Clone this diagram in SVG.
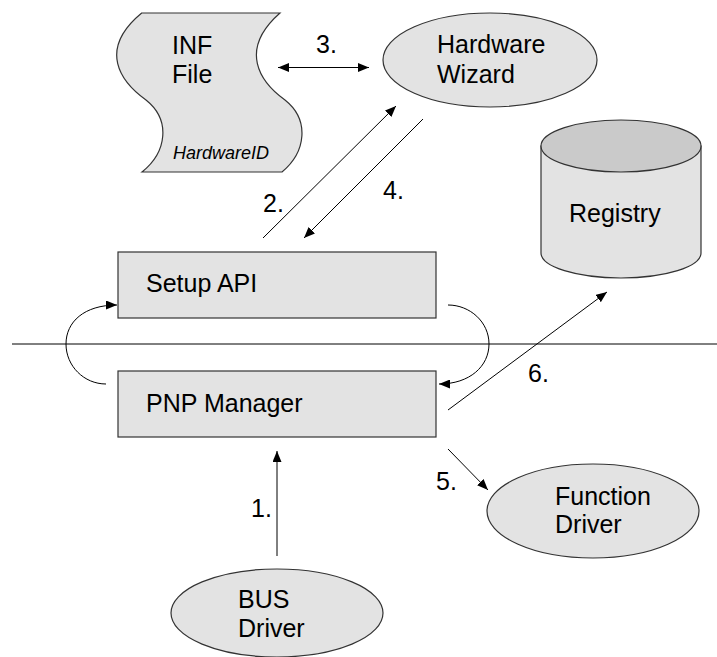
<svg xmlns="http://www.w3.org/2000/svg" width="717" height="657" viewBox="0 0 717 657">
<style>
.shape{fill:#e3e3e3;stroke:#333;stroke-width:1.2}
.top{fill:#cacaca;stroke:#333;stroke-width:1.2}
.t{font-family:"Liberation Sans",Arial,sans-serif;font-size:25px;fill:#000}
.it{font-family:"Liberation Sans",Arial,sans-serif;font-size:18px;font-style:italic;fill:#000}
.c{fill:none;stroke:#000;stroke-width:1}
</style>
<defs>
<marker id="ah" markerWidth="11" markerHeight="9" refX="11" refY="4.5" orient="auto-start-reverse" markerUnits="userSpaceOnUse">
<path d="M0,0 L11,4.5 L0,9 z" fill="#000"/>
</marker>
</defs>
<rect width="717" height="657" fill="#fff"/>
<line x1="12" y1="344" x2="717" y2="344" stroke="#000" stroke-width="1"/>
<g id="inf-file">
<path class="shape" d="M141.7,13 L280,13 C238,50 260,82 285,100 C310,120 306,152 282,172 L142,172 C167,152 171,120 146,100 C121,82 97,50 141.7,13 Z"/>
<text class="t" x="172" y="54">INF</text>
<text class="t" x="172" y="83">File</text>
<text class="it" x="173" y="159">HardwareID</text>
</g>
<g id="hardware-wizard">
<ellipse class="shape" cx="490" cy="60" rx="107" ry="47"/>
<text class="t" x="437" y="53">Hardware</text>
<text class="t" x="437" y="83">Wizard</text>
</g>
<g id="registry">
<path class="shape" d="M541,146 L541,253 A80,25 0 0 0 701,253 L701,146 Z"/>
<ellipse class="top" cx="621" cy="146" rx="80" ry="26"/>
<text class="t" x="569" y="222">Registry</text>
</g>
<g id="setup-api">
<rect class="shape" x="118" y="252" width="318" height="66"/>
<text class="t" x="146" y="292">Setup API</text>
</g>
<g id="pnp-manager">
<rect class="shape" x="118" y="371" width="318" height="66"/>
<text class="t" x="146" y="412">PNP Manager</text>
</g>
<g id="function-driver">
<ellipse class="shape" cx="593" cy="511" rx="106" ry="47"/>
<text class="t" x="555" y="505">Function</text>
<text class="t" x="555" y="533">Driver</text>
</g>
<g id="bus-driver">
<ellipse class="shape" cx="277" cy="613" rx="106" ry="44"/>
<text class="t" x="238" y="608">BUS</text>
<text class="t" x="238" y="637">Driver</text>
</g>
<g id="connectors">
<path class="c" d="M278,67.5 L369,67.5" marker-start="url(#ah)" marker-end="url(#ah)"/>
<path class="c" d="M263,238 L396,106" marker-end="url(#ah)"/>
<path class="c" d="M423,119 L304,238" marker-end="url(#ah)"/>
<path class="c" d="M106,384 C84,384 66,366 66,344 C66,322 84,305 117,305" marker-end="url(#ah)"/>
<path class="c" d="M448,305 C470,305 489,322 489,344 C489,366 470,384 439,384" marker-end="url(#ah)"/>
<path class="c" d="M448,410 L607,292" marker-end="url(#ah)"/>
<path class="c" d="M448,449 L488,490" marker-end="url(#ah)"/>
<path class="c" d="M277,556 L277,451" marker-end="url(#ah)"/>
<text class="t" x="316" y="53">3.</text>
<text class="t" x="263" y="212">2.</text>
<text class="t" x="383" y="199">4.</text>
<text class="t" x="528" y="382">6.</text>
<text class="t" x="436" y="490">5.</text>
<text class="t" x="251" y="517">1.</text>
</g>
</svg>
